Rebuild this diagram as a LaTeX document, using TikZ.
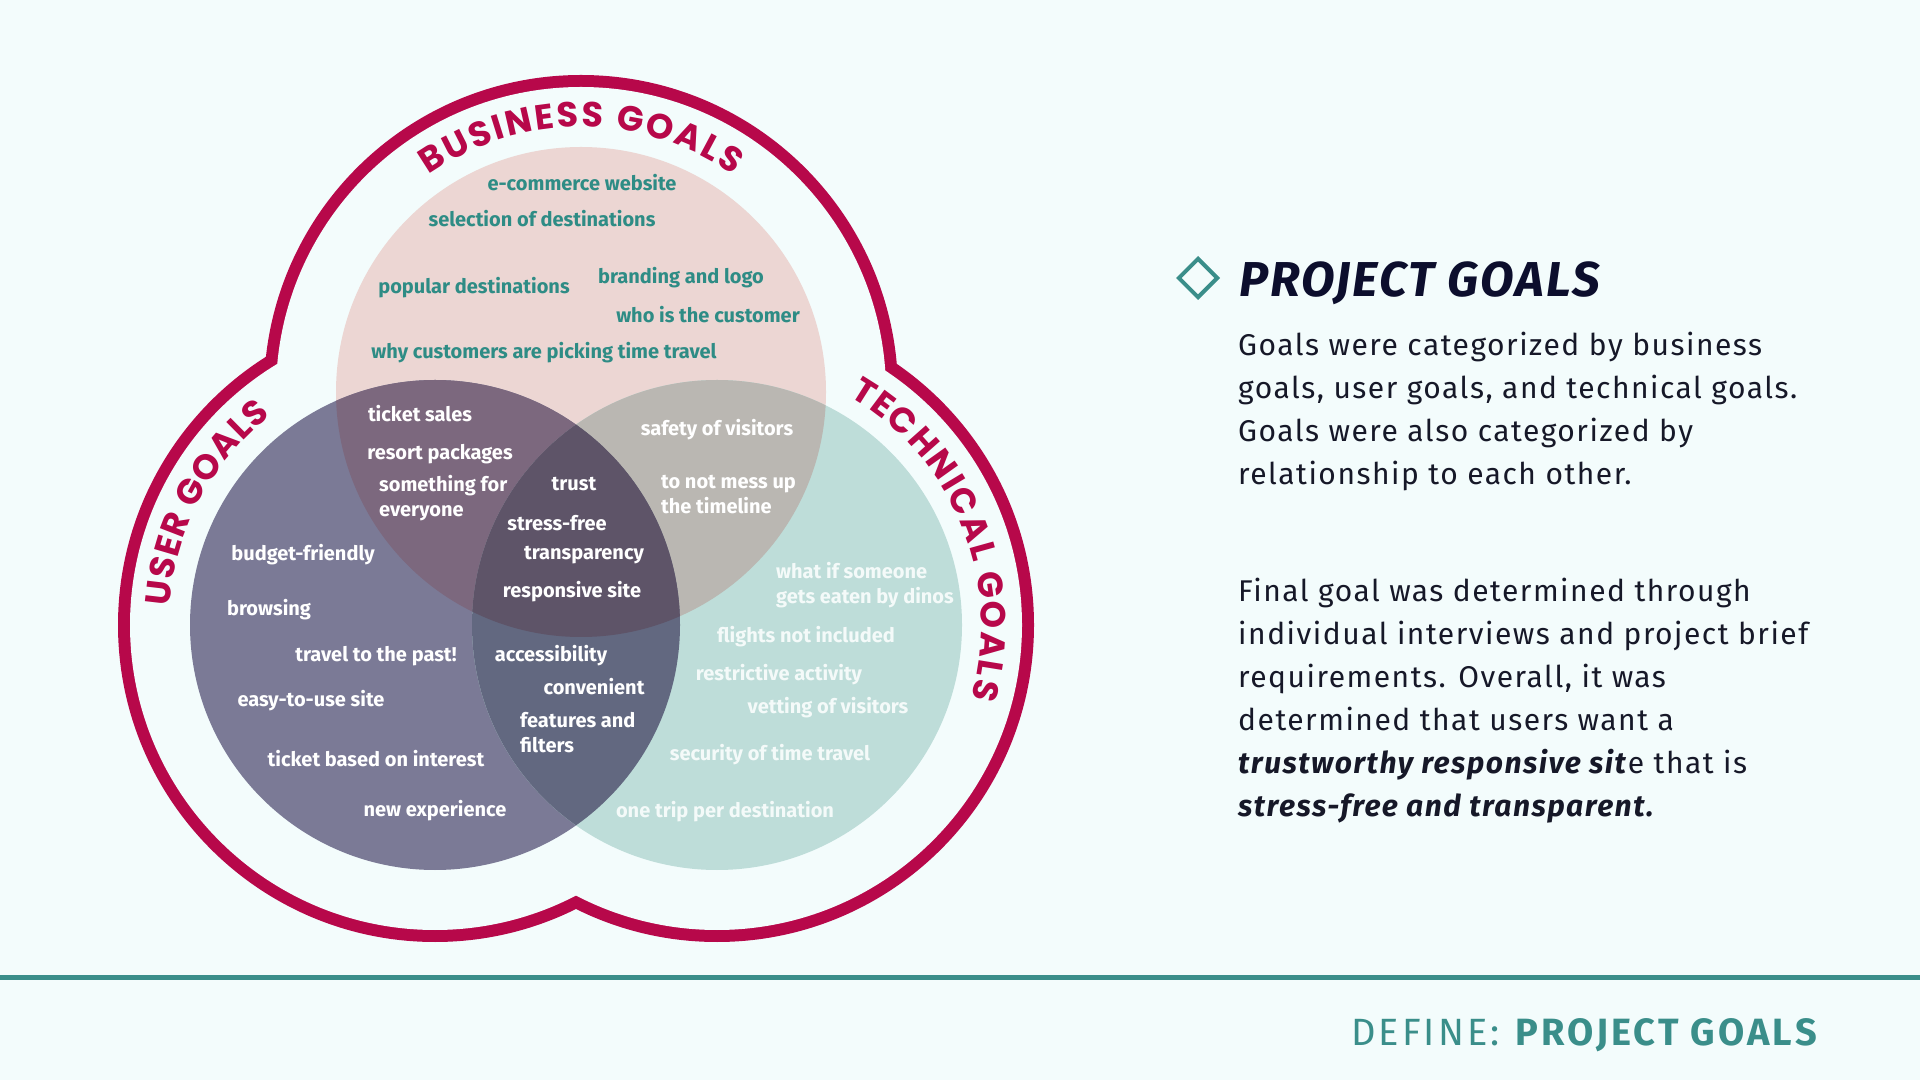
\documentclass[tikz,border=0pt]{standalone}
\usepackage{fontspec}
\setmainfont{Fira Sans}[LetterSpace=5]
\newfontfamily\labelfont{Fira Sans}
\newfontfamily\titlefont{Fira Sans}[LetterSpace=4]
\newfontfamily\footfont{Fira Sans}[LetterSpace=8]
\newfontfamily\arcfont{Poppins}
\newcommand\ringfont{\arcfont\bfseries\fontsize{35}{35}\selectfont}
\usetikzlibrary{decorations.text,shapes.geometric}

\begin{document}
\begin{tikzpicture}[x=1pt, y=1pt]
    % page colours
    \definecolor{pagebg}{RGB}{243,252,252}
    \definecolor{bizfill}{RGB}{236,214,211}   % business only
    \definecolor{userfill}{RGB}{123,122,150}  % user only
    \definecolor{techfill}{RGB}{190,221,217}  % technical only
    \definecolor{bizuser}{RGB}{124,104,126}
    \definecolor{biztech}{RGB}{186,183,178}
    \definecolor{usertech}{RGB}{98,104,128}
    \definecolor{allthree}{RGB}{94,84,104}
    \definecolor{crimson}{RGB}{183,8,74}
    \definecolor{tealtext}{RGB}{46,140,133}
    \definecolor{tealline}{RGB}{58,142,138}
    \definecolor{techtext}{RGB}{244,250,249}
    \definecolor{navytext}{RGB}{12,14,45}
    \definecolor{bodytext}{RGB}{22,24,40}

    % styles
    \tikzstyle{bizlabel} = [font=\labelfont\bfseries\fontsize{20}{25}\selectfont, text=tealtext, inner sep=0pt, text height=14pt, text depth=4pt]
    \tikzstyle{goallabel} = [bizlabel, text=white]
    \tikzstyle{techlabel} = [bizlabel, text=techtext]
    \tikzstyle{goalblock} = [font=\labelfont\bfseries\fontsize{20}{25}\selectfont, text=white, inner sep=0pt, align=left, anchor=west]
    \tikzstyle{para} = [anchor=north west, inner sep=0pt, align=left, font=\fontsize{30}{43}\selectfont, text=bodytext]
    \tikzset{ringtext/.style={decorate, decoration={text along path, text={|\ringfont|#1}, text align=fit to path, text color=crimson}}}

    \useasboundingbox (0,0) rectangle (1920,1080);
    \fill[pagebg] (0,0) rectangle (1920,1080);

    % circle centres
    \coordinate (bc) at (581,688);
    \coordinate (uc) at (435,455);
    \coordinate (tc) at (717,455);

    % outer ring
    \fill[crimson] (bc) circle (317) (uc) circle (317) (tc) circle (317);
    \fill[pagebg] (bc) circle (305) (uc) circle (305) (tc) circle (305);

    % venn circles
    \fill[bizfill] (bc) circle (245);
    \fill[userfill] (uc) circle (245);
    \fill[techfill] (tc) circle (245);
    \begin{scope}
        \clip (bc) circle (245);
        \fill[bizuser] (uc) circle (245);
        \fill[biztech] (tc) circle (245);
    \end{scope}
    \begin{scope}
        \clip (uc) circle (245);
        \fill[usertech] (tc) circle (245);
        \clip (bc) circle (245);
        \fill[allthree] (tc) circle (245);
    \end{scope}

    % ring titles
    \path[ringtext={BUSINESS GOALS}] ([shift={(125:265)}]bc) arc[start angle=125, end angle=55, radius=265];
    \path[ringtext={USER GOALS}] ([shift={(176:266)}]uc) arc[start angle=176, end angle=128, radius=266];
    \path[ringtext={TECHNICAL GOALS}] ([shift={(60:264)}]tc) arc[start angle=60, end angle=-16, radius=264];

    % business goals
    \node[bizlabel] (ecom) at (582,894) {e-commerce website};
    \node[bizlabel] (selection) at (542,858) {selection of destinations};
    \node[bizlabel] (popular) at (474,791) {popular destinations};
    \node[bizlabel] (branding) at (681,801) {branding and logo};
    \node[bizlabel] (customer) at (708,762) {who is the customer};
    \node[bizlabel] (whytravel) at (544,726) {why customers are picking time travel};

    % business + user
    \node[goallabel] (ticketsales) at (420,663) {ticket sales};
    \node[goallabel] (resort) at (440,625) {resort packages};
    \node[goalblock] (everyone) at (379,582) {something for\\everyone};

    % all three
    \node[goallabel] (trust) at (574,594) {trust};
    \node[goallabel] (stressfree) at (557,554) {stress-free};
    \node[goallabel] (transparency) at (584,525) {transparency};
    \node[goallabel] (responsive) at (572,487) {responsive site};

    % business + technical
    \node[goallabel] (safety) at (717,649) {safety of visitors};
    \node[goalblock] (timeline) at (661,585) {to not mess up\\the timeline};

    % user goals
    \node[goallabel] (budget) at (303,524) {budget-friendly};
    \node[goallabel] (browsing) at (269,469) {browsing};
    \node[goallabel] (past) at (376,423) {travel to the past!};
    \node[goallabel] (easyuse) at (311,378) {easy-to-use site};
    \node[goallabel] (interest) at (376,318) {ticket based on interest};
    \node[goallabel] (newexp) at (435,268) {new experience};

    % user + technical
    \node[goallabel] (access) at (551,423) {accessibility};
    \node[goallabel] (convenient) at (594,390) {convenient};
    \node[goalblock] (features) at (520,347) {features and\\filters};

    % technical goals
    \node[goalblock, text=techtext] (dinos) at (776,495) {what if someone\\gets eaten by dinos};
    \node[techlabel] (flights) at (806,442) {flights not included};
    \node[techlabel] (restrictive) at (779,404) {restrictive activity};
    \node[techlabel] (vetting) at (828,371) {vetting of visitors};
    \node[techlabel] (security) at (770,324) {security of time travel};
    \node[techlabel] (onetrip) at (725,267) {one trip per destination};

    % right column
    \node[diamond, draw=tealline, line width=4pt, minimum size=40pt, inner sep=0pt] (icon) at (1198,802) {};
    \node[anchor=base west, inner sep=0pt, font=\titlefont\bfseries\itshape\fontsize{49}{49}\selectfont, text=navytext] (title) at (1239,783) {PROJECT GOALS};
    \node[para] (intro) at (1238,748)
        {Goals were categorized by business\\goals, user goals, and technical goals.\\Goals were also categorized by\\relationship to each other.};
    \node[para] (final) at (1238,502)
        {Final goal was determined through\\individual interviews and project brief\\requirements. Overall, it was\\determined that users want a\\\textbf{\textit{trustworthy responsive sit}}e that is\\\textbf{\textit{stress-free and transparent.}}};

    % footer
    \draw[tealline, line width=5pt] (0,103) -- (1920,103);
    \node[anchor=base east, inner sep=0pt, font=\footfont\fontsize{38}{38}\selectfont, text=tealline] (footer) at (1820,35) {DEFINE: \textbf{PROJECT GOALS}};
\end{tikzpicture}
\end{document}
